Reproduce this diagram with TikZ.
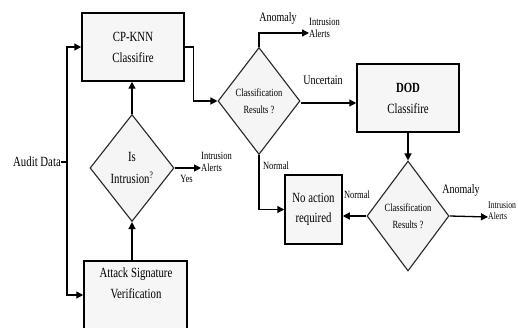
\documentclass[tikz,border=0pt]{standalone}
\usepackage{fontspec}
\setmainfont{Liberation Serif}[FakeStretch=0.77]
\usetikzlibrary{shapes.geometric,arrows.meta}
\begin{document}
\begin{tikzpicture}[x=1pt,y=-1pt,
  box/.style={draw, line width=1.5pt, fill=gray!7, inner sep=0pt},
  dia/.style={diamond, draw=black!85, line width=1.1pt, fill=gray!8, inner sep=0pt, align=center, font=\fontsize{11}{17}\selectfont},
  conn/.style={line width=1.3pt, -{Triangle[length=7pt,width=7pt]}},
  plain/.style={line width=1.3pt},
  lbl/.style={font=\fontsize{11}{12}\selectfont, inner sep=0pt, align=left},
  big/.style={font=\fontsize{14}{21}\selectfont, align=center, inner sep=0pt},
  edgelbl/.style={font=\fontsize{13}{14}\selectfont, inner sep=0pt}
]
\useasboundingbox (0,0) rectangle (518,328);
\clip (0,0) rectangle (518,328);

% boxes
\node[box, minimum width=102pt, minimum height=68pt, big] (cp) at (133,47) {CP-KNN\\Classifire};
\node[box, minimum width=103pt, minimum height=80pt] (attack) at (135.5,301) {};
\node[big] (attacktxt) at (136,283) {Attack Signature\\Verification};
\node[box, minimum width=102pt, minimum height=68pt, big] (dod) at (408,98) {{\bfseries DOD}\\Classifire};
\node[box, minimum width=57pt, minimum height=69pt, big, font=\fontsize{14}{20}\selectfont] (noact) at (313.5,209.5) {No action\\required};

% diamonds
\node[dia, minimum width=84pt, minimum height=107pt, font=\fontsize{14}{22}\selectfont] (isI) at (132,168) {Is\\Intrusion\textsuperscript{?}};
\node[dia, minimum width=82pt, minimum height=107pt] (d1) at (259,101) {Classification\\Results ?};
\node[dia, minimum width=82pt, minimum height=110pt] (d2) at (408,216) {Classification\\Results ?};

% texts
\node[big, anchor=east] (audit) at (61,162) {Audit Data};
\coordinate (split) at (67,162);
\node[lbl, anchor=west] (ia1) at (201,162) {Intrusion\\Alerts};
\node[lbl, anchor=west] (ia2) at (309,28) {Intrusion\\Alerts};
\node[lbl, anchor=west, font=\fontsize{10}{11}\selectfont] (ia3) at (488,211) {Intrusion\\Alerts};

% connectors
\draw[plain] (audit.east) -- (split);
\draw[conn] (split) |- (cp.west);
\draw[conn] (split) |- ([yshift=6pt]attack.west);
\draw[conn] (attack.north -| isI.south) -- (isI.south);
\draw[conn] (isI.north) -- (isI.north |- cp.south);
\draw[conn] (isI.east) -- ([yshift=-6pt]ia1.west) node[pos=0.45, below=7pt, lbl] (yes) {Yes};
\draw[conn] (cp.east) -- ++(9,0) |- (d1.west);
\draw[conn] (d1.north) |- ([yshift=-5pt]ia2.west);
\node[edgelbl] (an1) at (278,18) {Anomaly};
\draw[conn] ([yshift=-2pt]d1.east) -- ([yshift=-2pt]d1.east -| dod.west);
\node[edgelbl] (unc) at (323,80) {Uncertain};
\draw[conn] (dod.south) -- (d2.north);
\draw[conn] (d1.south) |- (noact.west);
\node[lbl] (n1) at (276,166) {Normal};
\draw[conn] (d2.west) -- (d2.west -| noact.east);
\node[lbl] (n2) at (357,195) {Normal};
\draw[conn] (d2.east) -- ([yshift=-6pt]ia3.west);
\node[edgelbl] (an2) at (461,190) {Anomaly};
\end{tikzpicture}
\end{document}
